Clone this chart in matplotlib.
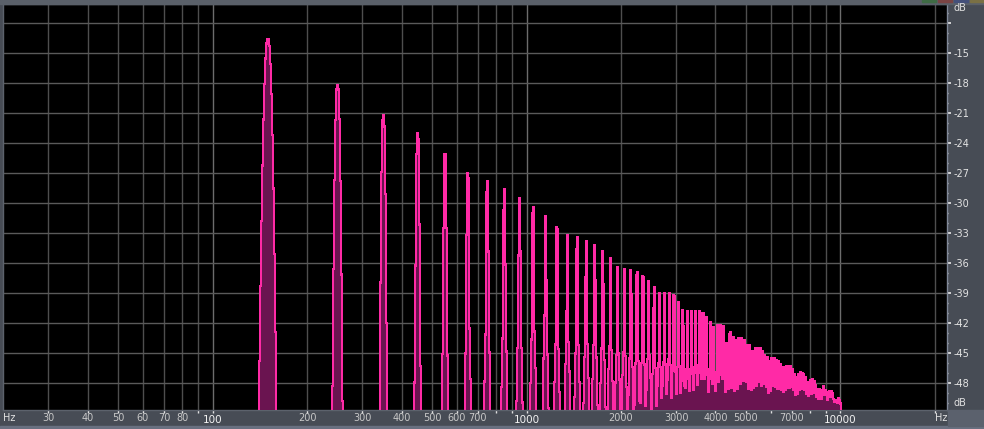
import numpy as np
import matplotlib.pyplot as plt
from matplotlib.patches import Rectangle
from matplotlib.ticker import NullLocator
from matplotlib.transforms import blended_transform_factory

harmonic_hz = list(range(150, 10000, 100))
peak_db = [
    -13.6, -18.2, -21.2, -23.0, -25.1, -27.0, -27.8, -28.6, -29.5, -30.4,
    -31.3, -32.4, -33.2, -33.4, -33.8, -34.2, -34.8, -35.5, -36.4, -36.6,
    -36.7, -36.9, -37.3, -37.8, -38.4, -39.0, -39.0, -39.0, -39.2, -39.9,
    -40.7, -40.8, -40.8, -40.8, -40.8, -41.0, -41.4, -41.9, -42.4, -42.2,
    -42.2, -42.3, -44.0, -42.9, -43.4, -43.7, -43.5, -43.5, -43.7, -44.2,
    -44.2, -44.8, -44.5, -44.5, -44.5, -44.8, -45.2, -45.4, -45.8, -45.5,
    -45.5, -45.7, -45.8, -46.1, -46.4, -46.4, -46.3, -46.3, -46.3, -46.6,
    -47.1, -47.4, -47.1, -46.9, -47.0, -47.1, -47.4, -47.9, -47.9, -47.7,
    -47.6, -47.8, -48.2, -48.6, -48.6, -48.8, -48.7, -48.3, -48.7, -49.0,
    -48.9, -48.8, -48.8, -49.0, -49.9, -49.7, -49.7, -49.5, -49.7,
]

x_grid_hz = [30, 40, 50, 60, 70, 80, 90, 100, 200, 300, 400, 500, 600, 700, 800, 900,
             1000, 2000, 3000, 4000, 5000, 6000, 7000, 8000, 9000, 10000, 20000]
x_label_hz = [30, 40, 50, 60, 70, 80, 100, 200, 300, 400, 500, 600, 700,
              1000, 2000, 3000, 4000, 5000, 7000, 10000]
y_grid_db = [-12, -15, -18, -21, -24, -27, -30, -33, -36, -39, -42, -45, -48]
y_minor_db = list(range(-50, -10))

W, H = 984, 429
panel = '#474c55'
bright = '#ff2aa6'
dark = '#6a1450'

fig = plt.figure(figsize=(W / 100, H / 100), dpi=100, facecolor=panel)
ax = fig.add_axes([3 / W, 19 / H, 944 / W, 406 / H])
ax.set_facecolor('black')
ax.set_xscale('log')
ax.set_xlim(21.49, 21858)
ax.set_ylim(-50.67, -10.07)

# one level per screen column, like the analyser does (max of each lobe inside the column)
edges = np.geomspace(21.49, 21858, 945)
lo, hi = edges[:-1], edges[1:]
level = np.full(lo.shape, -70.0)
for fc, pk in zip(harmonic_hz, peak_db):
    d = np.maximum(0, np.maximum(lo - fc, fc - hi))
    main = pk - 10 * (d / 4.7) ** 2                 # narrow main lobe
    drop = 10 - 11.5 * np.log10(fc / 1400)           # leakage skirt below the peak
    skirt = pk - drop - 10 * (d / (0.02 * fc)) ** 2
    level = np.maximum(level, np.maximum(main, skirt))

ax.stairs(level, edges, baseline=-70, fill=True, color=dark, lw=0,
          antialiased=False, zorder=3)
ax.stairs(level, edges, baseline=-70, color=bright, lw=1,
          antialiased=False, zorder=4)

# grid
for f in x_grid_hz:
    c = '#6c6c6c' if f in (100, 1000, 10000) else '#4e4e4e'
    ax.axvline(f, color=c, lw=1, zorder=1)
for db in y_grid_db:
    ax.axhline(db, color='#5a5a5a', lw=1, zorder=1)

for s in ax.spines.values():
    s.set_color('#5c626c')
    s.set_linewidth(1)
ax.spines['right'].set_color('#808898')

# x ticks (labels drawn by hand below)
ax.set_xticks(x_grid_hz)
ax.xaxis.set_minor_locator(NullLocator())
ax.tick_params(axis='x', direction='out', length=2, width=1, color='#e0e0e0',
               labelbottom=False)

# dB scale on the right
ax.yaxis.tick_right()
ax.set_yticks(y_grid_db)
ax.set_yticklabels([''] + [str(v) for v in y_grid_db[1:]])
ax.set_yticks(y_minor_db, minor=True)
ax.tick_params(axis='y', which='major', direction='out', length=3, width=1.2,
               color='#e8e8e8', labelsize=7, labelcolor='#e4e4e4', pad=2)
ax.tick_params(axis='y', which='minor', direction='out', length=1, width=1,
               color='#d0d0d0')

tr = blended_transform_factory(ax.transData, fig.transFigure)
for f in x_label_hz:
    big = f in (100, 1000, 10000)
    ax.text(f, (H - (420 if big else 418)) / H, str(f), transform=tr,
            ha='center', va='center', fontsize=7.5 if big else 7,
            color='#f2f2f2' if big else '#c8c8c8', family='DejaVu Sans')

fig.text(9 / W, (H - 418) / H, 'Hz', ha='center', va='center', fontsize=7,
         color='#e0e0e0')
fig.text(941 / W, (H - 418) / H, 'Hz', ha='center', va='center', fontsize=7,
         color='#e0e0e0')
fig.text(960 / W, (H - 8) / H, 'dB', ha='center', va='center', fontsize=7,
         color='#e0e0e0')
fig.text(960 / W, (H - 403) / H, 'dB', ha='center', va='center', fontsize=7,
         color='#e0e0e0')

# frame pieces around the display
fig.patches.append(Rectangle((0, (H - 4) / H), 1, 4 / H, transform=fig.transFigure,
                             color='#5a6069', zorder=0))
fig.patches.append(Rectangle((0, 0), 1, 3 / H, transform=fig.transFigure,
                             color='#697080', zorder=0))
fig.patches.append(Rectangle((948 / W, 3 / H), 36 / W, 16 / H,
                             transform=fig.transFigure, color='#5b616d', zorder=0))
for x0, col in [(922, '#3f6b45'), (938, '#7a4444'), (954, '#44507a'), (970, '#7a7044')]:
    fig.patches.append(Rectangle((x0 / W, (H - 2) / H), 14 / W, 2 / H,
                                 transform=fig.transFigure, color=col, zorder=1))

fig.savefig('out.png', dpi=100, facecolor=panel)
